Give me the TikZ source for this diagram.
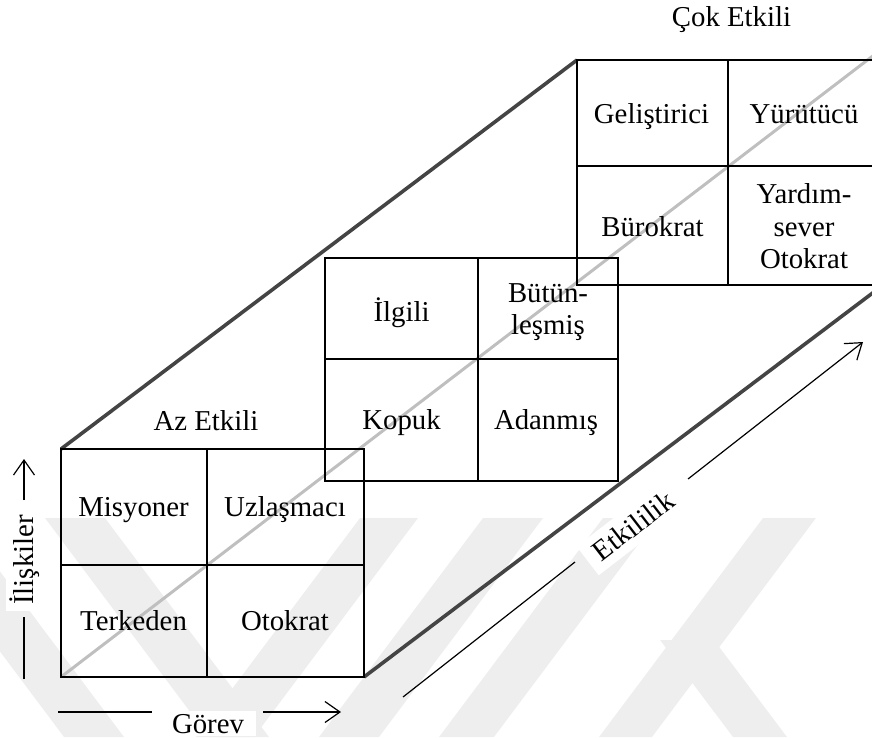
\documentclass[tikz,border=0pt]{standalone}
\usepackage{fontspec}
\setmainfont{Liberation Serif}
\usetikzlibrary{arrows.meta}
\definecolor{edgegray}{HTML}{444444}
\definecolor{diaggray}{HTML}{BFBFBF}
\definecolor{wmgray}{HTML}{EEEEEE}
\begin{document}
\begin{tikzpicture}[x=1pt,y=-1pt,
  txt/.style={font=\fontsize{28.8}{32.5}\selectfont, inner sep=0pt},
  lbl/.style={txt, text height=21.6pt, text depth=2.6pt},
  multi/.style={txt, align=center},
  box/.style={draw=black, line width=1.4pt, inner sep=0pt, outer sep=0pt},
  divider/.style={black, line width=1.4pt},
  rail/.style={edgegray, line width=3.6pt},
  diag/.style={diaggray, line width=3pt},
  axis/.style={black, line width=1.2pt},
  axisarrow/.style={axis, -{Straight Barb[length=15pt,width=21pt,line width=1.2pt]}},
  axislabel/.style={txt, fill=white}
]
\useasboundingbox (0,0) rectangle (872,737);

% faint background bands
\fill[wmgray] (-100,518) -- (-40,518) -- (124,737) -- (64,737) -- cycle;
\fill[wmgray] (45,518) -- (105,518) -- (269,737) -- (209,737) -- cycle;
\fill[wmgray] (360,518) -- (418,518) -- (254,737) -- (196,737) -- cycle;
\fill[wmgray] (483,518) -- (543,518) -- (379,737) -- (319,737) -- cycle;
\fill[wmgray] (603,518) -- (658,518) -- (494,737) -- (439,737) -- cycle;
\fill[wmgray] (763,518) -- (816,518) -- (652,737) -- (599,737) -- cycle;
\fill[wmgray] (660,640) -- (714,640) -- (787,737) -- (733,737) -- cycle;

% the three 2x2 grids
\node[box, minimum width=303pt, minimum height=228pt] (b1) at (212.5,563) {};
\node[box, minimum width=293pt, minimum height=223pt] (b2) at (471.5,369.5) {};
\node[box, minimum width=303pt, minimum height=225pt] (b3) at (728.5,172.5) {};

% free ends of the long lines
\coordinate (railend) at (880,287.4);
\coordinate (diagend) at (876,53.5);

% diagonal through the grids and the two rails
\draw[diag] (b1.south west) -- (diagend);
\draw[rail] (b1.north west) -- (b3.north west);
\draw[rail] (b1.south east) -- (railend);

% redraw grid frames and cell dividers on top
\node[box, minimum width=303pt, minimum height=228pt] at (212.5,563) {};
\node[box, minimum width=293pt, minimum height=223pt] at (471.5,369.5) {};
\node[box, minimum width=303pt, minimum height=225pt] at (728.5,172.5) {};
\draw[divider] (207,449) -- (207,677);
\draw[divider] (61,565) -- (364,565);
\draw[divider] (478,258) -- (478,481);
\draw[divider] (325,359) -- (618,359);
\draw[divider] (728,60) -- (728,285);
\draw[divider] (577,166) -- (880,166);

% cell texts
\node[lbl] (misyoner) at (133.5,507) {Misyoner};
\node[lbl] (uzlasmaci) at (285,507) {Uzlaşmacı};
\node[lbl] (terkeden) at (133.5,621) {Terkeden};
\node[lbl] (otokratA) at (285,621) {Otokrat};

\node[lbl] (ilgili) at (401.5,312) {İlgili};
\node[multi] (butunlesmis) at (548,312) {Bütün-\\leşmiş};
\node[lbl] (kopuk) at (401.5,420) {Kopuk};
\node[lbl] (adanmis) at (546,420) {Adanmış};

\node[lbl] (gelistirici) at (651.5,114) {Geliştirici};
\node[lbl] (yurutucu) at (804,114) {Yürütücü};
\node[lbl] (burokrat) at (652.5,227) {Bürokrat};
\node[multi] (yardimsever) at (804,226.5) {Yardım-\\sever\\Otokrat};

% level titles
\node[lbl] (azetkili) at (206,421) {Az Etkili};
\node[lbl] (coketkili) at (731.5,16.5) {Çok Etkili};

% Görev axis
\coordinate (g0) at (58,712);
\coordinate (g1) at (152,712);
\coordinate (g2) at (263,712);
\coordinate (g3) at (341,712);
\node[axislabel, anchor=base, inner xsep=12pt, inner ysep=3pt] (gorev) at (208,733) {Görev};
\draw[axis] (g0) -- (g1);
\draw[axisarrow] (g2) -- (g3);

% İlişkiler axis
\coordinate (i0) at (24,679);
\coordinate (i1) at (24,617);
\coordinate (i2) at (24,500);
\coordinate (i3) at (24,459);
\node[axislabel, rotate=90, anchor=base, inner xsep=6pt, inner ysep=4pt] (iliskiler) at (33.5,560) {İlişkiler};
\draw[axis] (i0) -- (i1);
\draw[axisarrow] (i2) -- (i3);

% Etkililik axis
\coordinate (e0) at (403,697);
\coordinate (e1) at (575,562);
\coordinate (e2) at (688,479);
\coordinate (e3) at (863,342);
\node[axislabel, rotate=37.6, inner xsep=10pt, inner ysep=8pt] (etkililik) at (633,526) {Etkililik};
\draw[axis] (e0) -- (e1);
\draw[axisarrow] (e2) -- (e3);
\end{tikzpicture}
\end{document}
